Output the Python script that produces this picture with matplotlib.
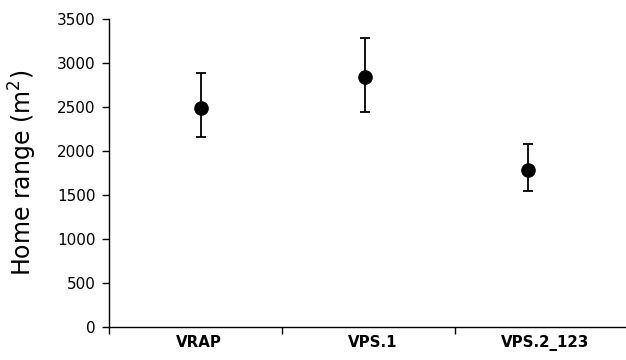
import matplotlib
matplotlib.use("Agg")
import matplotlib.pyplot as plt
import numpy as np

categories = ["VRAP", "VPS.1", "VPS.2_123"]
means = [2485, 2845, 1788]
upper = [2883, 3284, 2080]
lower = [2156, 2447, 1549]
# horizontal position of each point (category units)
point_x = [1.03, 1.98, 2.92]
yticks = [0, 500, 1000, 1500, 2000, 2500, 3000, 3500]

plt.rcParams['font.family'] = ['DejaVu Sans']

fig = plt.figure(figsize=(6.26, 3.6), dpi=100)
ax = fig.add_axes([0.174, 0.092, 0.83, 0.855])

x = np.arange(1, len(categories) + 1)
m = np.array(means)
err = np.vstack([m - np.array(lower), np.array(upper) - m])
ax.errorbar(point_x, m, yerr=err, fmt='o', color='black', markersize=9.5,
            ecolor='black', elinewidth=1.3, capsize=3.6, capthick=1.3)

ax.set_xlim(0.5, 3.5)
ax.set_ylim(0, 3500)
ax.set_yticks(yticks)
ax.set_yticklabels([str(t) for t in yticks], fontsize=11)
ax.set_xticks(x + 0.02)
ax.set_xticklabels(categories, fontsize=10.8, fontweight='bold')
ax.tick_params(axis='x', which='major', length=0, pad=6)
ax.set_xticks([0.5, 1.5, 2.5, 3.5], minor=True)
ax.tick_params(axis='x', which='minor', length=5, width=1, direction='out')
ax.tick_params(axis='y', length=5, width=1, direction='out', pad=4.8)
for s in ['top', 'right']:
    ax.spines[s].set_visible(False)
for s in ['left', 'bottom']:
    ax.spines[s].set_linewidth(1)
ax.set_ylabel("Home range (m$^2$)", fontsize=17)
ax.yaxis.set_label_coords(-0.134, 0.5)

fig.savefig("out.png", dpi=100)
